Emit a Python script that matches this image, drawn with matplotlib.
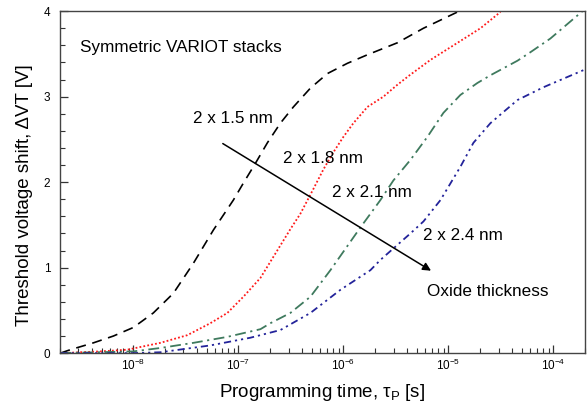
import numpy as np
import matplotlib
matplotlib.use("Agg")
import matplotlib.pyplot as plt
from matplotlib.ticker import LogLocator, MultipleLocator, NullFormatter

plt.rcParams['font.family'] = ['Liberation Sans', 'DejaVu Sans']
plt.rcParams['mathtext.fontset'] = 'custom'
plt.rcParams['mathtext.rm'] = 'Liberation Sans'
plt.rcParams['mathtext.it'] = 'Liberation Sans:italic'

# data (x as log10 of time in s, y = threshold shift in V)
logt_15 = [-8.695, -8.600, -8.381, -8.190, -8.0, -7.810, -7.619, -7.429, -7.238, -7.048, -6.952,
           -6.838, -6.724, -6.600, -6.476, -6.314, -6.152, -5.962, -5.771, -5.486, -5.238, -4.914]
dvt_15 = [0.0, 0.04, 0.12, 0.20, 0.30, 0.47, 0.70, 1.05, 1.44, 1.79, 1.99,
          2.22, 2.46, 2.69, 2.88, 3.10, 3.27, 3.39, 3.49, 3.63, 3.80, 3.99]

logt_18 = [-8.695, -8.314, -8.057, -7.743, -7.486, -7.267, -7.105, -6.952, -6.790, -6.695,
           -6.505, -6.410, -6.286, -6.190, -6.095, -6.0, -5.905, -5.771, -5.619, -5.495,
           -5.381, -5.171, -4.952, -4.695, -4.505]
dvt_18 = [0.0, 0.02, 0.04, 0.12, 0.21, 0.35, 0.47, 0.66, 0.88, 1.07,
          1.45, 1.63, 1.92, 2.15, 2.35, 2.53, 2.69, 2.88, 3.00, 3.13,
          3.24, 3.43, 3.60, 3.80, 3.99]

logt_21 = [-8.695, -8.0, -7.743, -7.429, -7.105, -6.790, -6.695, -6.505, -6.314, -6.124,
           -5.981, -5.838, -5.648, -5.524, -5.362, -5.200, -5.048, -4.886, -4.724, -4.600,
           -4.343, -4.219, -4.029, -3.771, -3.695]
dvt_21 = [0.0, 0.02, 0.06, 0.12, 0.19, 0.28, 0.35, 0.47, 0.66, 0.97,
          1.22, 1.47, 1.79, 2.02, 2.26, 2.53, 2.81, 3.02, 3.16, 3.25,
          3.42, 3.52, 3.68, 3.95, 4.03]

logt_24 = [-8.695, -8.0, -7.743, -7.267, -6.886, -6.600, -6.314, -6.029, -5.743, -5.648,
           -5.362, -5.238, -5.076, -4.886, -4.762, -4.600, -4.343, -4.095, -3.867, -3.695]
dvt_24 = [0.0, 0.0, 0.01, 0.09, 0.18, 0.27, 0.47, 0.74, 0.97, 1.09,
          1.40, 1.54, 1.79, 2.18, 2.46, 2.69, 2.96, 3.11, 3.23, 3.32]

labels = ["2 x 1.5 nm", "2 x 1.8 nm", "2 x 2.1 nm", "2 x 2.4 nm"]

fig = plt.figure(figsize=(5.88, 4.13), dpi=100)
ax = fig.add_axes([0.102, 0.145, 0.893, 0.828])

ax.plot(10 ** np.array(logt_15), dvt_15, color='black', lw=1.2, dashes=(6, 4))
ax.plot(10 ** np.array(logt_18), dvt_18, color='#ff1a1a', lw=1.3, dashes=(1, 1.2))
ax.plot(10 ** np.array(logt_21), dvt_21, color='#3f7a5e', lw=1.3, dashes=(6, 2.5, 1.2, 2.5))
ax.plot(10 ** np.array(logt_24), dvt_24, color='#23239a', lw=1.3, dashes=(4, 2.2, 1.2, 2.2, 1.2, 2.2))

ax.set_xscale('log')
ax.set_xlim(2e-9, 2e-4)
ax.set_ylim(0, 4)

ax.yaxis.set_major_locator(MultipleLocator(1))
ax.yaxis.set_minor_locator(MultipleLocator(0.2))
ax.xaxis.set_major_locator(LogLocator(base=10, numticks=10))
ax.xaxis.set_minor_locator(LogLocator(base=10, subs=np.arange(2, 10), numticks=20))
ax.xaxis.set_minor_formatter(NullFormatter())
ax.tick_params(which='both', direction='in', top=False, right=False, colors='#333333', labelcolor='black', labelsize=8.5)
ax.tick_params(which='major', length=6, width=0.9)
ax.tick_params(axis='y', pad=7)
ax.tick_params(which='minor', length=3.5, width=0.8)
for s in ax.spines.values():
    s.set_color('#444444')
    s.set_linewidth(1.0)

ax.set_xlabel("Programming time, τ$_{\\rm P}$ [s]", fontsize=13.5, labelpad=6)
ax.set_ylabel("Threshold voltage shift, ΔVT [V]", fontsize=13.5)
ax.yaxis.set_label_coords(-0.052, 0.462)

fs = 12.3
ax.text(3.1e-9, 3.57, "Symmetric VARIOT stacks", fontsize=fs, va='center')
ax.text(10 ** -7.43, 2.75, labels[0], fontsize=fs, va='center')
ax.text(10 ** -6.571, 2.28, labels[1], fontsize=fs, va='center')
ax.text(10 ** -6.105, 1.88, labels[2], fontsize=fs, va='center')
ax.text(10 ** -5.238, 1.37, labels[3], fontsize=fs, va='center')
ax.text(10 ** -5.2, 0.725, "Oxide thickness", fontsize=fs, va='center')

ax.annotate("", xy=(10 ** -5.143, 0.947), xytext=(10 ** -7.171, 2.468),
            arrowprops=dict(arrowstyle='-|>', color='black', lw=1.1, mutation_scale=12))

fig.savefig("out.png", dpi=100)
